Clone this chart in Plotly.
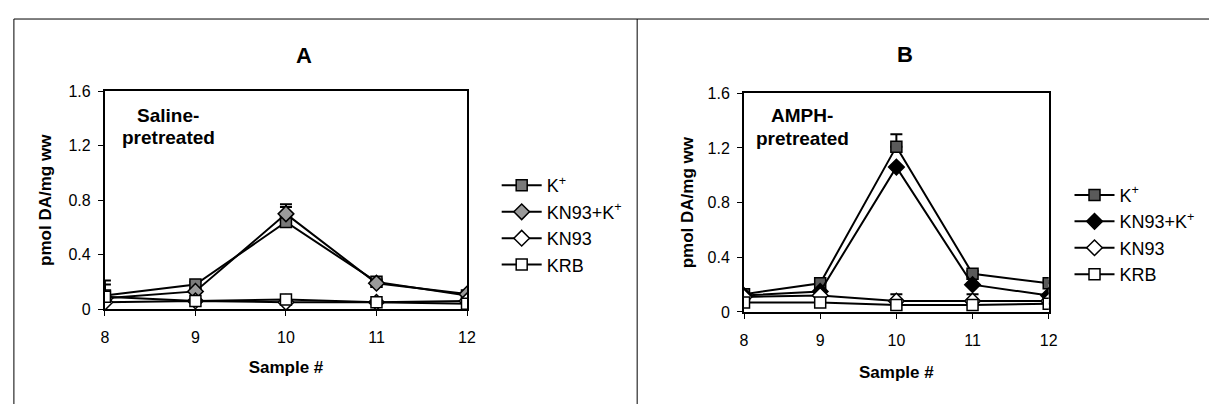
import plotly.graph_objects as go

W, H = 1218, 413

samples = [8, 9, 10, 11, 12]

# Panel A: Saline-pretreated
a_k = [0.10, 0.18, 0.64, 0.20, 0.10]
a_k_err = [0.11, 0.02, 0.13, 0.02, 0.01]
a_kn93k = [0.08, 0.13, 0.70, 0.19, 0.11]
a_kn93k_err = [0.10, 0.02, 0.05, 0.02, 0.01]
a_kn93 = [0.05, 0.06, 0.05, 0.05, 0.06]
a_krb = [0.09, 0.06, 0.07, 0.05, 0.04]

# Panel B: AMPH-pretreated
b_k = [0.13, 0.21, 1.21, 0.28, 0.21]
b_k_err = [0.01, 0.02, 0.09, 0.02, 0.02]
b_kn93k = [0.12, 0.15, 1.06, 0.20, 0.12]
b_kn93 = [0.11, 0.12, 0.08, 0.08, 0.08]
b_kn93_err = [0.01, 0.01, 0.05, 0.05, 0.01]
b_krb = [0.07, 0.07, 0.05, 0.05, 0.06]

series_names = ["K<sup>+</sup>", "KN93+K<sup>+</sup>", "KN93", "KRB"]
y_ticks = [0, 0.4, 0.8, 1.2, 1.6]
y_ticklabels = ["0", "0.4", "0.8", "1.2", "1.6"]

FONT = "Liberation Sans, Arial, sans-serif"

def px_x(p):
    return p / W

def px_y(p):
    return 1 - p / H

fig = go.Figure()

def add_series(xa, ya, legend, y, name, symbol, fill, err=None):
    fig.add_trace(go.Scatter(
        x=samples, y=y, name=name, xaxis=xa, yaxis=ya, legend=legend,
        mode="lines+markers",
        line=dict(color="black", width=2),
        marker=dict(symbol=symbol, size=11 if "square" in symbol else 12,
                    color=fill, line=dict(color="black", width=1.5)),
        error_y=(dict(type="data", symmetric=False, array=err,
                      arrayminus=[0] * len(err), visible=True, color="black",
                      thickness=2, width=6) if err is not None else None),
    ))

# Panel A traces
add_series("x", "y", "legend", a_k, series_names[0], "square", "#7a7a7a", a_k_err)
add_series("x", "y", "legend", a_kn93k, series_names[1], "diamond", "#9a9a9a", a_kn93k_err)
add_series("x", "y", "legend", a_kn93, series_names[2], "diamond", "white")
add_series("x", "y", "legend", a_krb, series_names[3], "square", "white")

# Panel B traces
add_series("x2", "y2", "legend2", b_k, series_names[0], "square", "#5a5a5a", b_k_err)
add_series("x2", "y2", "legend2", b_kn93k, series_names[1], "diamond", "black")
add_series("x2", "y2", "legend2", b_kn93, series_names[2], "diamond", "white", b_kn93_err)
add_series("x2", "y2", "legend2", b_krb, series_names[3], "square", "white")

axis_common = dict(
    showline=True, mirror=True, linecolor="black", linewidth=2,
    ticks="outside", ticklen=5, tickwidth=1, tickcolor="black",
    showgrid=False, zeroline=False,
    tickfont=dict(family=FONT, size=16, color="black"),
)

x_ticks = samples
TITLE_FONT = dict(family=FONT, size=17, color="black")

fig.update_layout(
    width=W, height=H,
    margin=dict(l=0, r=0, t=0, b=0),
    paper_bgcolor="white", plot_bgcolor="white",
    font=dict(family=FONT, color="black"),
    xaxis=dict(domain=[px_x(102), px_x(468)], range=[8, 12], anchor="y",
               tickvals=x_ticks, ticklabelstandoff=8,
               title=dict(text="<b>Sample #</b>", font=TITLE_FONT, standoff=16),
               **axis_common),
    yaxis=dict(domain=[px_y(314), px_y(87)], range=[0, 1.6], anchor="x",
               tickvals=y_ticks, ticktext=y_ticklabels, ticklabelstandoff=4,
               title=dict(text="<b>pmol DA/mg ww</b>", font=TITLE_FONT, standoff=12),
               **axis_common),
    xaxis2=dict(domain=[px_x(748), px_x(1056)], range=[8, 12], anchor="y2",
                tickvals=x_ticks, ticklabelstandoff=8,
                title=dict(text="<b>Sample #</b>", font=TITLE_FONT, standoff=18),
                **axis_common),
    yaxis2=dict(domain=[px_y(317), px_y(89)], range=[0, 1.6], anchor="x2",
                tickvals=y_ticks, ticktext=y_ticklabels, ticklabelstandoff=4,
                title=dict(text="<b>pmol DA/mg ww</b>", font=TITLE_FONT, standoff=10),
                **axis_common),
    legend=dict(x=px_x(498), y=px_y(166), xanchor="left", yanchor="top",
                font=dict(family=FONT, size=18, color="black"),
                bgcolor="rgba(0,0,0,0)", itemwidth=40, tracegroupgap=0),
    legend2=dict(x=px_x(1077), y=px_y(176), xanchor="left", yanchor="top",
                 font=dict(family=FONT, size=18, color="black"),
                 bgcolor="rgba(0,0,0,0)", itemwidth=40, tracegroupgap=0),
)

def label(text, x, y, size):
    fig.add_annotation(text=text, x=px_x(x), y=px_y(y), xref="paper", yref="paper",
                       xanchor="center", yanchor="middle", showarrow=False,
                       font=dict(family=FONT, size=size, color="black"))

# Panel titles and inset labels
label("<b>A</b>", 303, 50, 22)
label("<b>B</b>", 911, 48, 22)
label("<b>Saline-</b>", 166, 112, 19)
label("<b>pretreated</b>", 166, 135, 19)
label("<b>AMPH-</b>", 807, 112, 19)
label("<b>pretreated</b>", 807, 136, 19)

# Panel frame lines
frame = dict(type="line", xref="paper", yref="paper", line=dict(color="black", width=1))
fig.add_shape(x0=px_x(10), x1=1, y0=px_y(11.5), y1=px_y(11.5), **frame)
fig.add_shape(x0=px_x(10), x1=px_x(10), y0=px_y(11.5), y1=0, **frame)
fig.add_shape(x0=px_x(640), x1=px_x(640), y0=px_y(11.5), y1=0, **frame)

fig.write_html("out.html")
